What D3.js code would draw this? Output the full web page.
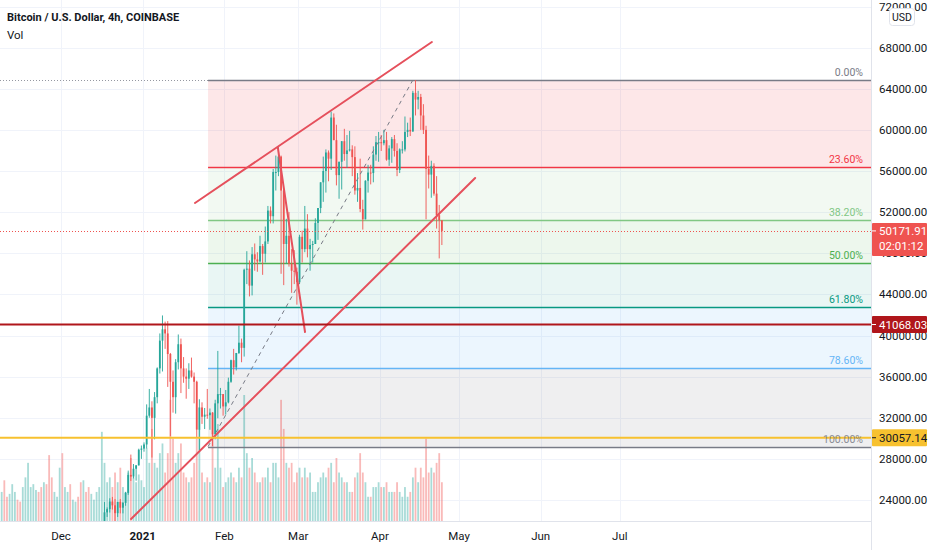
<!DOCTYPE html>
<html>
<head>
<meta charset="utf-8">
<script src="https://d3js.org/d3.v7.min.js"></script>
<style>
  body { margin: 0; background: #fff; }
  svg { display: block; }
  text { font-family: Roboto, "Noto Sans", sans-serif; }
</style>
</head>
<body>
<div id="graph"></div>
<script>
    // daily candles, first one is 2020-11-08 (UTC)
    var firstDay = "2020-11-08";
    var ohlc = [
        [14830, 15650, 14720, 15480], [15480, 15850, 14850, 15330], [15330, 15470, 15100, 15300],
        [15300, 15950, 15280, 15700], [15700, 16350, 15450, 16290], [16290, 16480, 15950, 16330],
        [16330, 16330, 15430, 16070], [16070, 16130, 15790, 15960], [15960, 16880, 15870, 16720],
        [16720, 17860, 16560, 17660], [17660, 18480, 17220, 17800], [17800, 18150, 17350, 17820],
        [17820, 18800, 17760, 18680], [18680, 18960, 18350, 18710], [18710, 18750, 17620, 18420],
        [18420, 18770, 18000, 18370], [18370, 19420, 18030, 19160], [19160, 19500, 18570, 18730],
        [18730, 18920, 16200, 17150], [17150, 17460, 16450, 17140], [17140, 17890, 16880, 17720],
        [17720, 18350, 17520, 18180], [18180, 19860, 18180, 19700],
        // Dec
        [19700, 19920, 18330, 18800], [18800, 19340, 18350, 19220], [19220, 19590, 18920, 19450],
        [19450, 19520, 18580, 18700], [18700, 19170, 18500, 19150], [19150, 19420, 18870, 19360],
        [19360, 19420, 18900, 19170], [19170, 19290, 18200, 18320], [18320, 18640, 17650, 18550],
        [18550, 18560, 17910, 18250], [18250, 18290, 17570, 18040], [18040, 18950, 18020, 18800],
        [18800, 19420, 18720, 19170], [19150, 19350, 19000, 19270], [19270, 19570, 19050, 19440],
        [19440, 21560, 19290, 21350], [21350, 23800, 21230, 22800], [22800, 23280, 22350, 23110],
        [23110, 24170, 22780, 23850], [23850, 24300, 23070, 23480], [23480, 24100, 21800, 22720],
        [22720, 23800, 22350, 23820], [23820, 24100, 22700, 23250], [23250, 23800, 22700, 23720],
        [23720, 24790, 23440, 24690], [24690, 26860, 24500, 26440], [26440, 28420, 25850, 26280],
        [26280, 27500, 26100, 27040], [27040, 27400, 25880, 27370], [27370, 28990, 27350, 28890],
        [28890, 29300, 28000, 29000],
        // Jan
        [29000, 29600, 28700, 29400], [29400, 33300, 29000, 32200], [32200, 34800, 32000, 33000],
        [33000, 33600, 28130, 31990], [31990, 34500, 29900, 34000], [34000, 36900, 33400, 36800],
        [36800, 40200, 36300, 39500], [39500, 41950, 36500, 40600], [40600, 41350, 38700, 40200],
        [40200, 41400, 35000, 38200], [38200, 38300, 30200, 35500], [35500, 36600, 32500, 34000],
        [34000, 37700, 32400, 37400], [37400, 40100, 36700, 39150], [39150, 39700, 34400, 36800],
        [36800, 37900, 35400, 36000], [36000, 36800, 33850, 35800], [35800, 37300, 34800, 36600],
        [36600, 37850, 35900, 36000], [36000, 36400, 33400, 35500], [35500, 35600, 30100, 30850],
        [30850, 33800, 28850, 33000], [33000, 33500, 31400, 32100], [32100, 32950, 30900, 32300],
        [32300, 34800, 31900, 32250], [32250, 32900, 30830, 32500], [32500, 32550, 29240, 30400],
        [30400, 33750, 29900, 33400], [33400, 38500, 31950, 34300], [34300, 34900, 32900, 34300],
        [34300, 34300, 32200, 33100],
        // Feb
        [33100, 34700, 32300, 33500], [33500, 35900, 33400, 35500], [35500, 37650, 35400, 37600],
        [37600, 38700, 36200, 36900], [36900, 38300, 36600, 38300], [38300, 40950, 38200, 39300],
        [39300, 39700, 37400, 38800], [38800, 46500, 37950, 46400], [46400, 48200, 45000, 46500],
        [46500, 47300, 43800, 44850], [44850, 48600, 43900, 47900], [47900, 48950, 46300, 47400],
        [47400, 48100, 46200, 47200], [47200, 49700, 47100, 48700], [48700, 48900, 45900, 47950],
        [47950, 50600, 47100, 49150], [49150, 52600, 48900, 52150], [52150, 52550, 50900, 51600],
        [51600, 56200, 50900, 55900], [55900, 57500, 54100, 55900], [55900, 58350, 55500, 57400],
        [57400, 57500, 46000, 54100], [54100, 54200, 44900, 48900], [48900, 51350, 47000, 49700],
        [49700, 52000, 46700, 47000], [47000, 48400, 44150, 46300], [46300, 48300, 45000, 46200],
        [46200, 46600, 43000, 45200],
        // Mar
        [45200, 49800, 45000, 49600], [49600, 50200, 47100, 48400], [48400, 52600, 48100, 50400],
        [50400, 51800, 47600, 48400], [48400, 49400, 46300, 48800], [48800, 49200, 47100, 48900],
        [48900, 51400, 48900, 50950], [50950, 52400, 49300, 52400], [52400, 54900, 51900, 54900],
        [54900, 57400, 53000, 56000], [56000, 58100, 53900, 57800], [57800, 58000, 55000, 57200],
        [57200, 61780, 56100, 61200], [61200, 61600, 59000, 59000], [59000, 60500, 54600, 55600],
        [55600, 56900, 53300, 56900], [56900, 58900, 54200, 58900], [58900, 60100, 57000, 57650],
        [57650, 59500, 56300, 58000], [58000, 59900, 57900, 58100], [58100, 58500, 55500, 57350],
        [57350, 58400, 53700, 54100], [54100, 55800, 53000, 54350], [54350, 57200, 52000, 52300],
        [52300, 53200, 50300, 51300], [51300, 55100, 51300, 55050], [55050, 56600, 53900, 55850],
        [55850, 56600, 54700, 55800], [55800, 58400, 54900, 57600], [57600, 59400, 57000, 58800],
        [58800, 59800, 56900, 58800],
        // Apr
        [58800, 59500, 57950, 58700], [58700, 60000, 58500, 59000], [59000, 59800, 57000, 57100],
        [57100, 58500, 56500, 58200], [58200, 59300, 56800, 59100], [59100, 59500, 57400, 57950],
        [57950, 58700, 55500, 56100], [56100, 58200, 55800, 58100], [58100, 58900, 57700, 58100],
        [58100, 61300, 57900, 59800], [59800, 60700, 59300, 60000], [60000, 61200, 59400, 59850],
        [59850, 63800, 59800, 63600], [63600, 64850, 61400, 62950], [62950, 63800, 62000, 63200],
        [63200, 63500, 60000, 61400], [61400, 62500, 59600, 60000], [60000, 60400, 51300, 56200],
        [56200, 57500, 54300, 55650], [55650, 57000, 53400, 56500], [56500, 56750, 53600, 53800],
        [53800, 55500, 50400, 51700], [51700, 52700, 47500, 51200], [51200, 51200, 48800, 50170]
    ];

    // volume per day (thousands of BTC)
    var volume = [
        30, 42, 25, 28, 38, 30, 22,   20, 35, 45, 60, 35, 38, 32,
        30, 35, 40, 38, 68, 45, 30,   25, 55, 70, 35, 30, 38, 22,
        20, 25, 40, 42, 30, 35, 28,   22, 30, 35, 92, 60, 40, 45,
        35, 50, 40, 55, 35, 30, 50,   65, 45, 40, 48, 42, 35, 75,
        60, 95, 60, 55, 70, 80, 50,   70, 125, 85, 60, 70, 80, 50,
        45, 40, 45, 60, 85, 95, 50,   40, 45, 40, 90, 55, 100, 55,
        35, 40, 45, 50, 45, 40, 55,   45, 130, 70, 55, 65, 50, 40,
        40, 45, 45, 55, 40, 60, 60,   45, 125, 95, 60, 55, 60, 40,
        50, 55, 45, 55, 45, 50, 30,   30, 40, 45, 50, 45, 55, 60,
        40, 65, 50, 45, 40, 40, 30,   30, 45, 50, 70, 50, 40, 25,
        25, 35, 35, 40, 35, 35, 40,   30, 30, 30, 40, 30, 25, 35,
        25, 30, 45, 55, 40, 55, 45,   85, 50, 55, 50, 60, 70, 40
    ];

    var priceTicks = d3.range(24000, 72001, 4000);
    var monthDates = ["2020-12-01", "2021-01-01", "2021-02-01", "2021-03-01",
                      "2021-04-01", "2021-05-01", "2021-06-01", "2021-07-01"];
    var monthLabels = ["Dec", "2021", "Feb", "Mar", "Apr", "May", "Jun", "Jul"];

    var fibHigh = 64850, fibLow = 29190;
    var fibStart = "2021-01-25T19:00Z";
    var fibRatios = [0, 0.236, 0.382, 0.5, 0.618, 0.786, 1];
    var fibLabels = ["0.00%", "23.60%", "38.20%", "50.00%", "61.80%", "78.60%", "100.00%"];
    var fibColors = ["#787b86", "#f23645", "#81c784", "#4caf50", "#089981", "#64b5f6", "#787b86"];
    var fibFills = ["rgba(242,54,69,0.12)", "rgba(129,199,132,0.10)", "rgba(76,175,80,0.10)",
                    "rgba(8,153,129,0.09)", "rgba(100,181,246,0.12)", "rgba(120,123,134,0.12)"];

    // drawn lines: [[time, price], [time, price]]
    var channelLines = [
        [["2021-01-20T20:00Z", 52890], ["2021-04-20T17:00Z", 68550]],
        [["2020-12-27T14:00Z", 22150], ["2021-05-07T03:00Z", 55320]],
        [["2021-02-21T07:00Z", 58240], ["2021-03-03T14:00Z", 40340]]
    ];
    var fibTrend = [[fibStart, fibLow], ["2021-04-13T12:00Z", fibHigh]];

    var lastPrice = 50171.91, countdown = "02:01:12";
    var levelLines = [
        { price: 41068.03, color: "#b0161b", text: "#ffffff" },
        { price: 30057.14, color: "#f7c12f", text: "#131722" }
    ];

    var width = 932, height = 550, plotRight = 871, plotBottom = 521;

    var x = d3.scaleUtc()
        .domain([new Date("2020-12-01T00:00Z"), new Date("2021-05-01T00:00Z")])
        .range([61, 459]);
    var y = d3.scaleLinear()
        .domain([24000, 72000])
        .range([500, 6.5]);
    var yVol = d3.scaleLinear()
        .domain([0, 130])
        .range([plotBottom, plotBottom - 126]);

    var day0 = new Date(firstDay + "T00:00Z");
    function dayCenter(i) { return x(d3.utcHour.offset(d3.utcDay.offset(day0, i), 12)); }
    var up = "#26a69a", down = "#ef5350";
    var axisFont = 11.5;

    var svg = d3.select("#graph")
        .append("svg")
        .attr("width", width)
        .attr("height", height);

    svg.append("clipPath").attr("id", "plot")
        .append("rect").attr("width", plotRight).attr("height", plotBottom);

    var plot = svg.append("g").attr("clip-path", "url(#plot)");

    // grid
    plot.selectAll(".hgrid").data(priceTicks).enter().append("line")
        .attr("x1", 0).attr("x2", plotRight)
        .attr("y1", function (d) { return Math.round(y(d)) + 0.5; })
        .attr("y2", function (d) { return Math.round(y(d)) + 0.5; })
        .attr("stroke", "#f0f3fa");
    plot.selectAll(".vgrid").data(monthDates).enter().append("line")
        .attr("x1", function (d) { return Math.round(x(new Date(d))) + 0.5; })
        .attr("x2", function (d) { return Math.round(x(new Date(d))) + 0.5; })
        .attr("y1", 0).attr("y2", plotBottom)
        .attr("stroke", "#f0f3fa");

    // fib zones
    var fx = x(new Date(fibStart));
    function fibPrice(r) { return fibHigh - (fibHigh - fibLow) * r; }
    plot.selectAll(".fibzone").data(fibFills).enter().append("rect")
        .attr("x", fx).attr("width", plotRight - fx)
        .attr("y", function (d, i) { return y(fibPrice(fibRatios[i])); })
        .attr("height", function (d, i) { return y(fibPrice(fibRatios[i + 1])) - y(fibPrice(fibRatios[i])); })
        .attr("fill", function (d) { return d; });

    // volume
    plot.selectAll(".vol").data(volume).enter().append("rect")
        .attr("x", function (d, i) { return dayCenter(i) - 0.9; })
        .attr("width", 1.8)
        .attr("y", function (d) { return yVol(d); })
        .attr("height", function (d) { return plotBottom - yVol(d); })
        .attr("fill", function (d, i) { return ohlc[i][3] >= ohlc[i][0] ? up : down; })
        .attr("opacity", 0.4);

    // fib lines + labels
    plot.selectAll(".fibline").data(fibRatios).enter().append("line")
        .attr("x1", fx).attr("x2", plotRight)
        .attr("y1", function (d) { return Math.round(y(fibPrice(d))) + 0.5; })
        .attr("y2", function (d) { return Math.round(y(fibPrice(d))) + 0.5; })
        .attr("stroke", function (d, i) { return fibColors[i]; })
        .attr("stroke-width", 1.3);
    plot.append("line")
        .attr("x1", 0).attr("x2", fx)
        .attr("y1", Math.round(y(fibHigh)) + 0.5).attr("y2", Math.round(y(fibHigh)) + 0.5)
        .attr("stroke", "#9598a1").attr("stroke-dasharray", "1,2");
    plot.selectAll(".fiblabel").data(fibRatios.slice(0, 6)).enter().append("text")
        .attr("x", 863)
        .attr("y", function (d) { return y(fibPrice(d)) - 4; })
        .attr("text-anchor", "end")
        .attr("font-size", 10.5)
        .attr("fill", function (d, i) { return fibColors[i]; })
        .text(function (d, i) { return fibLabels[i]; });

    // candles
    var candles = plot.append("g");
    candles.selectAll(".wick").data(ohlc).enter().append("line")
        .attr("x1", function (d, i) { return dayCenter(i); })
        .attr("x2", function (d, i) { return dayCenter(i); })
        .attr("y1", function (d) { return y(d[1]); })
        .attr("y2", function (d) { return y(d[2]); })
        .attr("stroke", function (d) { return d[3] >= d[0] ? up : down; })
        .attr("stroke-width", 0.9);
    candles.selectAll(".body").data(ohlc).enter().append("rect")
        .attr("x", function (d, i) { return dayCenter(i) - 0.9; })
        .attr("width", 1.8)
        .attr("y", function (d) { return y(Math.max(d[0], d[3])); })
        .attr("height", function (d) { return Math.max(1, Math.abs(y(d[0]) - y(d[3]))); })
        .attr("fill", function (d) { return d[3] >= d[0] ? up : down; });

    // drawings
    function pt(p) { return [x(new Date(p[0])), y(p[1])]; }
    plot.append("line")
        .attr("x1", pt(fibTrend[0])[0]).attr("y1", pt(fibTrend[0])[1])
        .attr("x2", pt(fibTrend[1])[0]).attr("y2", pt(fibTrend[1])[1])
        .attr("stroke", "#787b86").attr("stroke-width", 1).attr("stroke-dasharray", "4,4");
    plot.selectAll(".channel").data(channelLines).enter().append("line")
        .attr("x1", function (d) { return pt(d[0])[0]; }).attr("y1", function (d) { return pt(d[0])[1]; })
        .attr("x2", function (d) { return pt(d[1])[0]; }).attr("y2", function (d) { return pt(d[1])[1]; })
        .attr("stroke", "#e5505c").attr("stroke-width", 2).attr("stroke-linecap", "round");

    // horizontal levels
    plot.selectAll(".level").data(levelLines).enter().append("line")
        .attr("x1", 0).attr("x2", plotRight)
        .attr("y1", function (d) { return y(d.price); }).attr("y2", function (d) { return y(d.price); })
        .attr("stroke", function (d) { return d.color; }).attr("stroke-width", 2);
    plot.append("line")
        .attr("x1", 0).attr("x2", plotRight)
        .attr("y1", Math.round(y(lastPrice)) + 0.5).attr("y2", Math.round(y(lastPrice)) + 0.5)
        .attr("stroke", "#ef5350").attr("stroke-dasharray", "1,2");

    // 100% label sits on top of the yellow level
    svg.append("text")
        .attr("x", 863).attr("y", y(fibLow) - 4)
        .attr("text-anchor", "end").attr("font-size", 10.5)
        .attr("fill", "#787b86").attr("opacity", 0.85)
        .text(fibLabels[6]);

    // axes frames
    svg.append("line").attr("x1", plotRight + 0.5).attr("x2", plotRight + 0.5)
        .attr("y1", 0).attr("y2", height).attr("stroke", "#e0e3eb");
    svg.append("line").attr("x1", 0).attr("x2", plotRight)
        .attr("y1", plotBottom + 0.5).attr("y2", plotBottom + 0.5).attr("stroke", "#e0e3eb");

    svg.selectAll(".ptick").data(priceTicks).enter().append("text")
        .attr("x", 879).attr("y", function (d) { return y(d) + 4; })
        .attr("font-size", axisFont).attr("fill", "#131722")
        .text(function (d) { return d3.format(".2f")(d); });

    svg.selectAll(".ttick").data(monthDates).enter().append("text")
        .attr("x", function (d) { return x(new Date(d)); }).attr("y", 540)
        .attr("text-anchor", "middle").attr("font-size", axisFont).attr("fill", "#131722")
        .attr("font-weight", function (d, i) { return monthLabels[i] === "2021" ? "bold" : "normal"; })
        .text(function (d, i) { return monthLabels[i]; });

    // price tags
    var tagX = plotRight + 1, tagW = 55;
    var ly = y(lastPrice);
    svg.append("rect").attr("x", tagX).attr("y", ly - 8).attr("width", tagW).attr("height", 33)
        .attr("fill", "#ef5350").attr("rx", 1);
    svg.append("line").attr("x1", tagX).attr("x2", tagX + 4).attr("y1", ly).attr("y2", ly)
        .attr("stroke", "#fff");
    svg.append("text").attr("x", 879).attr("y", ly + 4).attr("font-size", axisFont).attr("fill", "#fff")
        .text(d3.format(".2f")(lastPrice));
    svg.append("text").attr("x", 879).attr("y", ly + 19).attr("font-size", axisFont).attr("fill", "#fff")
        .text(countdown);
    levelLines.forEach(function (d) {
        var py = y(d.price);
        svg.append("rect").attr("x", tagX).attr("y", py - 8.5).attr("width", tagW).attr("height", 17)
            .attr("fill", d.color).attr("rx", 1);
        svg.append("line").attr("x1", tagX).attr("x2", tagX + 4).attr("y1", py).attr("y2", py)
            .attr("stroke", d.text);
        svg.append("text").attr("x", 879).attr("y", py + 4).attr("font-size", axisFont).attr("fill", d.text)
            .text(d3.format(".2f")(d.price));
    });

    // USD button
    svg.append("rect").attr("x", 889.5).attr("y", 8.5).attr("width", 25).attr("height", 17)
        .attr("rx", 3).attr("fill", "#fff").attr("stroke", "#e0e3eb");
    svg.append("text").attr("x", 902).attr("y", 21).attr("text-anchor", "middle")
        .attr("font-size", 10.5).attr("fill", "#131722").text("USD");

    // title
    svg.append("text").attr("x", 7).attr("y", 21).attr("font-size", 11).attr("font-weight", "bold")
        .attr("fill", "#131722").text("Bitcoin / U.S. Dollar, 4h, COINBASE");
    svg.append("text").attr("x", 7).attr("y", 39).attr("font-size", 11.5)
        .attr("fill", "#131722").text("Vol");
</script>
</body>
</html>
